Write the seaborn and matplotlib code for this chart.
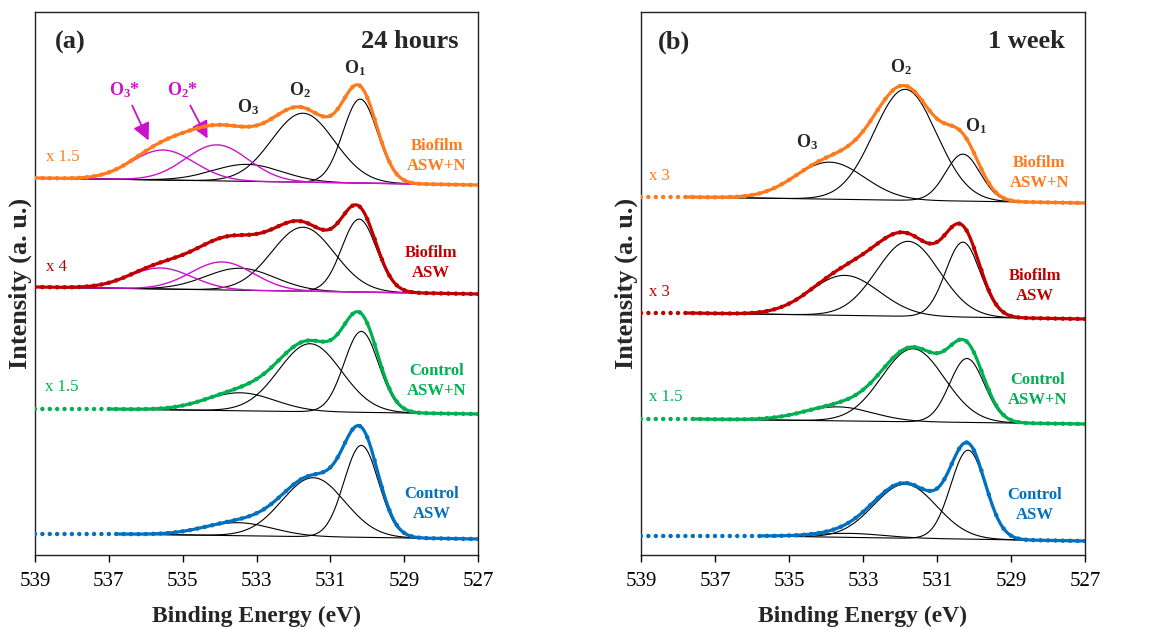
import numpy as np
import pandas as pd
import seaborn as sns
import matplotlib
matplotlib.use("Agg")
import matplotlib.pyplot as plt

sns.set_style("white")
plt.rcParams["font.family"] = ["Liberation Serif", "DejaVu Serif"]
plt.rcParams["mathtext.fontset"] = "custom"
plt.rcParams["mathtext.rm"] = "Liberation Serif"
plt.rcParams["mathtext.bf"] = "Liberation Serif:bold"
plt.rcParams["mathtext.it"] = "Liberation Serif:italic"

# ---------------- data ----------------
series_labels = ["Biofilm\nASW+N", "Biofilm\nASW", "Control\nASW+N", "Control\nASW"]
series_colors = ["#ff7a1c", "#c00000", "#00b050", "#0070c0"]
comp_names = ["O1", "O2", "O3", "O2*", "O3*"]

# panel (a): 24 hours
a_scale = ["x 1.5", "x 4", "x 1.5", ""]
a_fit_start = [539.0, 539.0, 537.0, 536.8]
a_base_left = [377, 268, 146, 21]
a_base_right = [370, 261, 141, 16]
a_centers = [[530.19, 531.74, 533.25, 534.07, 535.53],
             [530.22, 531.74, 533.44, 533.93, 535.60],
             [530.16, 531.55, 533.44],
             [530.16, 531.46, 533.50]]
a_heights = [[84, 69, 17, 36, 30],
             [73, 64, 22, 28, 21],
             [81, 68, 18],
             [92, 59, 13]]
a_fwhm = [[1.1, 2.0, 2.2, 2.0, 2.0],
          [1.1, 2.0, 2.2, 2.0, 2.0],
          [1.1, 2.0, 2.2],
          [1.1, 2.0, 2.2]]

# panel (b): 1 week
b_scale = ["x 3", "x 3", "x 1.5", ""]
b_fit_start = [537.76, 537.76, 537.6, 535.8]
b_base_left = [358, 242, 136, 19]
b_base_right = [352, 236, 131, 14]
b_centers = [[530.30, 531.86, 533.90],
             [530.30, 531.78, 533.49],
             [530.19, 531.65, 533.68],
             [530.16, 531.86, 533.35]]
b_heights = [[47, 111, 37],
             [75, 75, 40],
             [64, 73, 14],
             [89, 54, 4]]
b_fwhm = [[1.1, 2.0, 2.2],
          [1.1, 2.0, 2.2],
          [1.1, 2.0, 2.2],
          [1.1, 2.0, 2.2]]

x_ticks = [539, 537, 535, 533, 531, 529, 527]

MAG = "#cc11cc"


def gauss(e, c, h, w):
    s = w / 2.3548
    return h * np.exp(-0.5 * ((e - c) / s) ** 2)


def draw_panel(ax, fit_start, base_left, base_right, centers, heights, fwhm):
    e_line = np.arange(527.0, 539.0001, 0.02)
    e_dots = np.arange(527.0, 539.0001, 0.2)
    for i in range(4):
        col = series_colors[i]
        fs = fit_start[i]

        def base(e):
            return base_right[i] + (base_left[i] - base_right[i]) * (e - 527.0) / (fs - 527.0)

        ef = e_line[e_line <= fs + 1e-9]
        comps = [gauss(ef, c, h, w) for c, h, w in zip(centers[i], heights[i], fwhm[i])]
        env = base(ef) + np.sum(comps, axis=0)
        for k in range(len(comps)):
            if k >= 3:
                continue
            sns.lineplot(x=ef, y=base(ef) + comps[k], ax=ax, color="black", lw=0.8,
                         estimator=None, sort=False)
        for k in range(len(comps)):
            if k < 3:
                continue
            sns.lineplot(x=ef, y=base(ef) + comps[k], ax=ax, color=MAG, lw=1.0,
                         estimator=None, sort=False)
        ed = e_dots
        model = base(np.minimum(ed, fs)) + np.sum(
            [gauss(ed, c, h, w) for c, h, w in zip(centers[i], heights[i], fwhm[i])], axis=0)
        yd = np.where(ed <= fs, model, base_left[i])
        sns.scatterplot(x=ed, y=yd, ax=ax, color=col, s=10, edgecolor="none", linewidth=0, zorder=4)
        sns.lineplot(x=ef, y=env, ax=ax, color=col, lw=2.3, estimator=None, sort=False, zorder=5)


fig = plt.figure(figsize=(11.58, 6.3), dpi=100)
axA = fig.add_axes([35 / 1158, 75 / 630, 443 / 1158, 543 / 630])
axB = fig.add_axes([641 / 1158, 75 / 630, 444 / 1158, 543 / 630])

draw_panel(axA, a_fit_start, a_base_left, a_base_right, a_centers, a_heights, a_fwhm)
draw_panel(axB, b_fit_start, b_base_left, b_base_right, b_centers, b_heights, b_fwhm)

for ax in (axA, axB):
    ax.set_xlim(539, 527)
    ax.set_ylim(0, 543)
    ax.set_xticks(x_ticks)
    ax.set_xticklabels([str(t) for t in x_ticks], fontsize=15)
    ax.set_yticks([])
    ax.tick_params(axis="x", direction="out", length=5, width=1, pad=7, bottom=True, colors="black")
    for sp in ax.spines.values():
        sp.set_visible(True)
        sp.set_color("#222222")
        sp.set_linewidth(1.0)
    ax.set_xlabel("Binding Energy (eV)", fontsize=17, fontweight="bold", labelpad=11)
    ax.set_ylabel("Intensity (a. u.)", fontsize=19, fontweight="bold", labelpad=2)

# series labels & scale factors
a_lab_pos = [(528.11, 399), (528.27, 292), (528.11, 174), (528.25, 51)]
a_scale_pos = [(538.24, 398), (538.43, 288), (538.27, 168)]
b_lab_pos = [(528.24, 382), (528.35, 269), (528.27, 165), (528.35, 50)]
b_scale_pos = [(538.51, 379), (538.51, 263), (538.32, 158)]
for ax, lp, sp_, sc in ((axA, a_lab_pos, a_scale_pos, a_scale), (axB, b_lab_pos, b_scale_pos, b_scale)):
    for i in range(4):
        ax.text(lp[i][0], lp[i][1], series_labels[i], color=series_colors[i], fontsize=12,
                fontweight="bold", ha="center", va="center", linespacing=1.35)
    for i in range(3):
        ax.text(sp_[i][0], sp_[i][1], sc[i], color=series_colors[i], fontsize=12,
                ha="center", va="center")

# panel titles
axA.text(538.05, 513, "(a)", fontsize=19, fontweight="bold", ha="center", va="center")
axA.text(527.52, 513, "24 hours", fontsize=19, fontweight="bold", ha="right", va="center")
axB.text(538.11, 513, "(b)", fontsize=19, fontweight="bold", ha="center", va="center")
axB.text(527.54, 513, "1 week", fontsize=19, fontweight="bold", ha="right", va="center")

# component labels
axA.text(530.33, 487, r"O$_\mathbf{1}$", fontsize=13, fontweight="bold", ha="center", va="center")
axA.text(531.82, 465, r"O$_\mathbf{2}$", fontsize=13, fontweight="bold", ha="center", va="center")
axA.text(533.23, 448, r"O$_\mathbf{3}$", fontsize=13, fontweight="bold", ha="center", va="center")
axA.text(536.56, 465, r"O$_\mathbf{3}$*", fontsize=13, fontweight="bold", color=MAG, ha="center", va="center")
axA.text(534.99, 465, r"O$_\mathbf{2}$*", fontsize=13, fontweight="bold", color=MAG, ha="center", va="center")
axA.annotate("", xy=(535.89, 412), xytext=(536.40, 452),
             arrowprops=dict(arrowstyle="-|>", color=MAG, lw=1.3, mutation_scale=26))
axA.annotate("", xy=(534.29, 414), xytext=(534.83, 452),
             arrowprops=dict(arrowstyle="-|>", color=MAG, lw=1.3, mutation_scale=26))

axB.text(531.97, 488, r"O$_\mathbf{2}$", fontsize=13, fontweight="bold", ha="center", va="center")
axB.text(529.95, 429, r"O$_\mathbf{1}$", fontsize=13, fontweight="bold", ha="center", va="center")
axB.text(534.51, 413, r"O$_\mathbf{3}$", fontsize=13, fontweight="bold", ha="center", va="center")

fig.savefig("out.png", dpi=100)
